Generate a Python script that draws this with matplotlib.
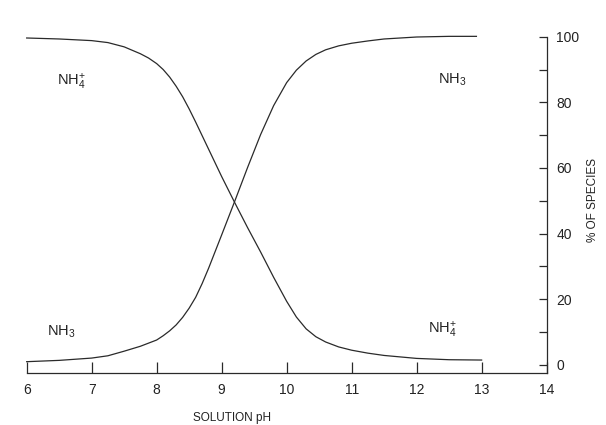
import matplotlib.pyplot as plt
import numpy as np

plt.rcParams["font.family"] = ["Liberation Sans", "DejaVu Sans"]
plt.rcParams["mathtext.default"] = "regular"

# values (% of total ammonia)
ph_nh4 = [6.0, 6.5, 7.0, 7.25, 7.5, 7.75, 7.875, 8.0, 8.1, 8.2, 8.3, 8.4, 8.5,
          8.6, 8.8, 9.0, 9.2, 9.4, 9.6, 9.8, 10.0, 10.15, 10.3, 10.45, 10.6,
          10.8, 11.0, 11.25, 11.5, 12.0, 12.5, 13.0]
pct_nh4 = [99.6, 99.3, 98.8, 98.2, 96.9, 94.8, 93.5, 91.8, 90.0, 87.7, 84.9,
           81.7, 78.0, 74.0, 65.7, 57.4, 49.5, 41.8, 34.4, 26.7, 19.4, 14.6,
           11.0, 8.6, 7.0, 5.5, 4.5, 3.6, 2.9, 2.0, 1.6, 1.5]

ph_nh3 = [6.0, 6.5, 7.0, 7.25, 7.5, 7.75, 8.0, 8.1, 8.2, 8.3, 8.4, 8.5, 8.6,
          8.7, 8.8, 9.0, 9.2, 9.4, 9.6, 9.8, 10.0, 10.15, 10.3, 10.45, 10.6,
          10.8, 11.0, 11.25, 11.5, 12.0, 12.5, 12.92]
pct_nh3 = [1.0, 1.4, 2.1, 2.8, 4.2, 5.7, 7.6, 8.9, 10.4, 12.2, 14.5, 17.3,
           20.6, 24.8, 29.5, 39.6, 49.8, 60.2, 70.2, 79.0, 86.0, 89.8, 92.6,
           94.6, 96.0, 97.2, 98.0, 98.7, 99.3, 99.9, 100.1, 100.1]

x_ticks = [6, 7, 8, 9, 10, 11, 12, 13, 14]
y_major = [0, 20, 40, 60, 80, 100]
y_minor = [10, 30, 50, 70, 90]

species = [("NH$_4^{+}$", 6.47, 86.1), ("NH$_3$", 12.33, 86.8),
           ("NH$_3$", 6.31, 10.0), ("NH$_4^{+}$", 12.17, 10.6)]

fig = plt.figure(figsize=(6.06, 4.25), dpi=100)
ax = fig.add_axes([0.044, 0.1224, 0.858, 0.7913])

ax.plot(ph_nh4, pct_nh4, color="#2a2a2a", lw=0.9, clip_on=False)
ax.plot(ph_nh3, pct_nh3, color="#2a2a2a", lw=0.9, clip_on=False)

ax.set_xlim(6, 14)
ax.set_ylim(-2.44, 100)

ax.spines["left"].set_visible(False)
ax.spines["top"].set_visible(False)
for s in ("bottom", "right"):
    ax.spines[s].set_color("#2a2a2a")
    ax.spines[s].set_linewidth(0.9)

ax.set_xticks(x_ticks)
ax.tick_params(axis="x", direction="in", length=8, width=0.9, color="#2a2a2a",
               pad=7, labelsize=10, labelcolor="#222222")

ax.yaxis.tick_right()
ax.set_yticks(y_major)
ax.set_yticks(y_minor, minor=True)
ax.tick_params(axis="y", which="both", direction="in", length=6, width=0.9,
               color="#2a2a2a", pad=7, labelsize=10, labelcolor="#222222")

for txt, xx, yy in species:
    ax.text(xx, yy, txt, fontsize=10.5, color="#222222", ha="left", va="center")

fig.text(232 / 606, 1 - 418 / 425, "SOLUTION pH", ha="center", va="center",
         fontsize=8.5, color="#222222")
fig.text(593 / 606, 1 - 200 / 425, "% OF SPECIES", ha="center", va="center",
         rotation=90, fontsize=8.5, color="#222222")

plt.savefig("out.png", dpi=100)
plt.close()
